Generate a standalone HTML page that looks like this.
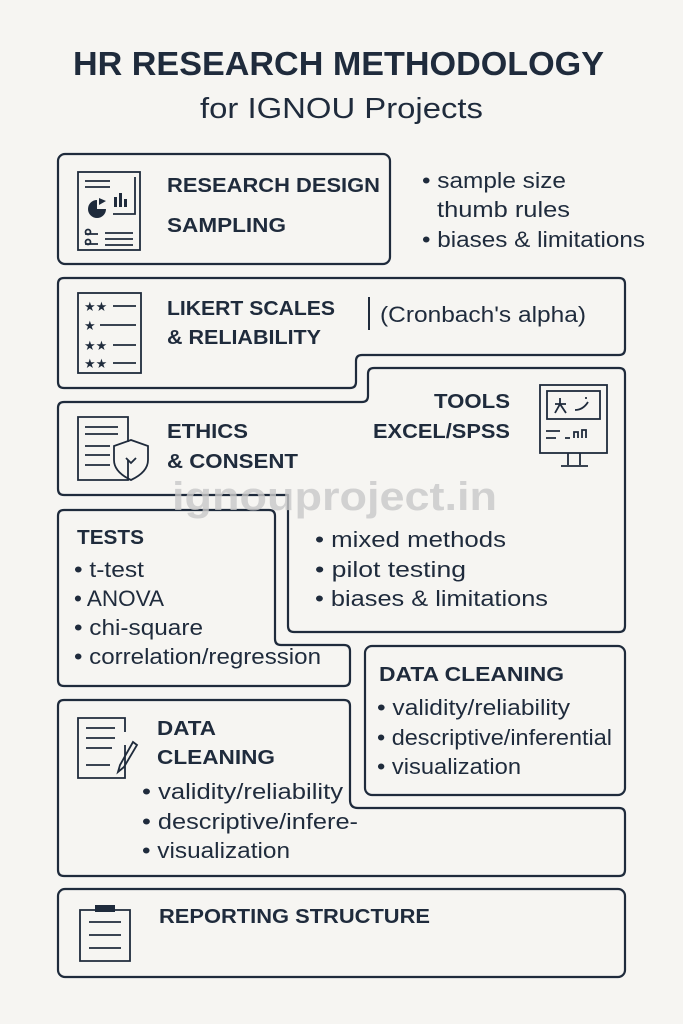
<!DOCTYPE html>
<html><head><meta charset="utf-8"><style>
html,body{margin:0;padding:0;background:#f6f5f2;}
svg{display:block}
text{font-family:"Liberation Sans",sans-serif;fill:#1f2b3c}
.h{font-weight:bold;font-size:20.5px}
.b{font-size:22px}
</style></head><body>
<svg width="683" height="1024" viewBox="0 0 683 1024" xmlns="http://www.w3.org/2000/svg">
<rect width="683" height="1024" fill="#f6f5f2"/>
<text x="73" y="75" textLength="531" lengthAdjust="spacingAndGlyphs" style="font-weight:bold;font-size:33px">HR RESEARCH METHODOLOGY</text>
<text x="200" y="118" textLength="283" lengthAdjust="spacingAndGlyphs" style="font-size:29px">for IGNOU Projects</text>

<g fill="none" stroke="#1f2b3c" stroke-width="2.2" stroke-linejoin="round">
<rect x="58" y="154" width="332" height="110" rx="7"/>
<path d="M64 278 H619 Q625 278 625 284 V349 Q625 355 619 355 H362 Q356 355 356 361 V382 Q356 388 350 388 H64 Q58 388 58 382 V284 Q58 278 64 278 Z"/>
<path d="M64 402 H362 Q368 402 368 396 V374 Q368 368 374 368 H619 Q625 368 625 374 V626 Q625 632 619 632 H294 Q288 632 288 626 V495 H64 Q58 495 58 489 V408 Q58 402 64 402 Z"/>
<path d="M64 510 H269 Q275 510 275 516 V639 Q275 645 281 645 H344 Q350 645 350 651 V680 Q350 686 344 686 H64 Q58 686 58 680 V516 Q58 510 64 510 Z"/>
<rect x="365" y="646" width="260" height="149" rx="7"/>
<path d="M64 700 H344 Q350 700 350 706 V800 Q350 808 358 808 H619 Q625 808 625 814 V870 Q625 876 619 876 H64 Q58 876 58 870 V706 Q58 700 64 700 Z"/>
<rect x="58" y="889" width="567" height="88" rx="7"/>
</g>

<g fill="none" stroke="#1f2b3c" stroke-width="1.8">
<rect x="78" y="172" width="62" height="78"/>
<path d="M85 181H110M85 187H110M135 177V214H113M85 234H98M85 244H98M105 233H133M105 239H133M105 245H133"/>
<circle cx="88" cy="232" r="2.5"/><circle cx="88" cy="242" r="2.5"/>
</g>
<path d="M97 200 A9 9 0 1 0 106 209 L97 209 Z" fill="#1f2b3c"/>
<path d="M99 198 L99 205 L106 201 Z" fill="#1f2b3c"/>
<rect x="114" y="197" width="3" height="10" fill="#1f2b3c"/><rect x="119" y="193" width="3" height="14" fill="#1f2b3c"/><rect x="124" y="199" width="3" height="8" fill="#1f2b3c"/>

<text class="h" x="167" y="192" textLength="213" lengthAdjust="spacingAndGlyphs">RESEARCH DESIGN</text>
<text class="h" x="167" y="232" textLength="119" lengthAdjust="spacingAndGlyphs">SAMPLING</text>
<text class="b" x="422" y="188" textLength="144" lengthAdjust="spacingAndGlyphs">•  sample size</text>
<text class="b" x="437" y="217" textLength="133" lengthAdjust="spacingAndGlyphs">thumb rules</text>
<text class="b" x="422" y="247" textLength="223" lengthAdjust="spacingAndGlyphs">•  biases &amp; limitations</text>

<rect x="78" y="293" width="63" height="80" fill="none" stroke="#1f2b3c" stroke-width="1.8"/>
<text x="84" y="311" style="font-size:13px">★★</text><text x="84" y="330" style="font-size:13px">★</text><text x="84" y="350" style="font-size:13px">★★</text><text x="84" y="368" style="font-size:13px">★★</text>
<path d="M113 306H136M100 325H136M113 345H136M113 363H136" stroke="#1f2b3c" stroke-width="1.8"/>
<text class="h" x="167" y="315" textLength="168" lengthAdjust="spacingAndGlyphs">LIKERT SCALES</text>
<text class="h" x="167" y="344" textLength="154" lengthAdjust="spacingAndGlyphs">&amp; RELIABILITY</text>
<path d="M369 297V330" stroke="#1f2b3c" stroke-width="2"/>
<text class="b" x="380" y="322" textLength="206" lengthAdjust="spacingAndGlyphs">(Cronbach's alpha)</text>

<text class="h" x="434" y="408" textLength="76" lengthAdjust="spacingAndGlyphs">TOOLS</text>
<text class="h" x="373" y="438" textLength="137" lengthAdjust="spacingAndGlyphs">EXCEL/SPSS</text>
<g fill="none" stroke="#1f2b3c" stroke-width="1.8">
<rect x="540" y="385" width="67" height="68"/>
<rect x="547" y="391" width="53" height="28"/>
<path d="M568 453V465M580 453V465M561 466H588M546 431H560M546 438H556M565 438H570M574 438V432H578V438M582 438V430H586V438"/>
<path d="M555 404H566M560 398V404L555 413M560 404L566 413M575 410Q583 410 588 402M585 398L587 398"/>
</g>

<g fill="none" stroke="#1f2b3c" stroke-width="1.8">
<path d="M128 460V480H78V417H128V442"/>
<path d="M85 427H118M85 434H118M85 446H110M85 455H110M85 465H110"/>
<path d="M131 440 L148 446 V460 Q148 472 131 480 Q114 472 114 460 V446 Z"/>
<path d="M126 458L131 463L136 458"/>
</g>
<text class="h" x="167" y="438" textLength="81" lengthAdjust="spacingAndGlyphs">ETHICS</text>
<text class="h" x="167" y="468" textLength="131" lengthAdjust="spacingAndGlyphs">&amp; CONSENT</text>

<text x="172" y="510" textLength="325" lengthAdjust="spacingAndGlyphs" style="font-weight:bold;font-size:40px;fill:#c9c9c9;opacity:.8">ignouproject.in</text>

<text class="h" x="77" y="544" textLength="67" lengthAdjust="spacingAndGlyphs">TESTS</text>
<text class="b" x="74" y="577" textLength="70" lengthAdjust="spacingAndGlyphs">• t-test</text>
<text class="b" x="74" y="606" textLength="90" lengthAdjust="spacingAndGlyphs">• ANOVA</text>
<text class="b" x="74" y="635" textLength="129" lengthAdjust="spacingAndGlyphs">• chi-square</text>
<text class="b" x="74" y="664" textLength="247" lengthAdjust="spacingAndGlyphs">• correlation/regression</text>

<text class="b" x="315" y="547" textLength="191" lengthAdjust="spacingAndGlyphs">•  mixed methods</text>
<text class="b" x="315" y="577" textLength="151" lengthAdjust="spacingAndGlyphs">•  pilot testing</text>
<text class="b" x="315" y="606" textLength="233" lengthAdjust="spacingAndGlyphs">•  biases &amp; limitations</text>

<text class="h" x="379" y="681" textLength="185" lengthAdjust="spacingAndGlyphs">DATA CLEANING</text>
<text class="b" x="377" y="715" textLength="193" lengthAdjust="spacingAndGlyphs">• validity/reliability</text>
<text class="b" x="377" y="745" textLength="235" lengthAdjust="spacingAndGlyphs">• descriptive/inferential</text>
<text class="b" x="377" y="774" textLength="144" lengthAdjust="spacingAndGlyphs">• visualization</text>

<g fill="none" stroke="#1f2b3c" stroke-width="1.8">
<path d="M125 745V778H78V718H125V732"/>
<path d="M86 728H115M86 738H115M86 748H112M86 765H110"/>
<path d="M133 742L120 765L118 772L124 767L137 745Z"/>
</g>
<text class="h" x="157" y="735" textLength="59" lengthAdjust="spacingAndGlyphs">DATA</text>
<text class="h" x="157" y="764" textLength="118" lengthAdjust="spacingAndGlyphs">CLEANING</text>
<text class="b" x="142" y="799" textLength="201" lengthAdjust="spacingAndGlyphs">• validity/reliability</text>
<text class="b" x="142" y="829" textLength="216" lengthAdjust="spacingAndGlyphs">• descriptive/infere-</text>
<text class="b" x="142" y="858" textLength="148" lengthAdjust="spacingAndGlyphs">• visualization</text>

<g fill="none" stroke="#1f2b3c" stroke-width="1.8">
<path d="M95 910H80V961H130V910H115"/>
<path d="M89 922H121M89 935H121M89 948H121"/>
</g>
<rect x="95" y="905" width="20" height="7" fill="#1f2b3c"/>
<text class="h" x="159" y="923" textLength="271" lengthAdjust="spacingAndGlyphs">REPORTING STRUCTURE</text>
</svg>
</body></html>
